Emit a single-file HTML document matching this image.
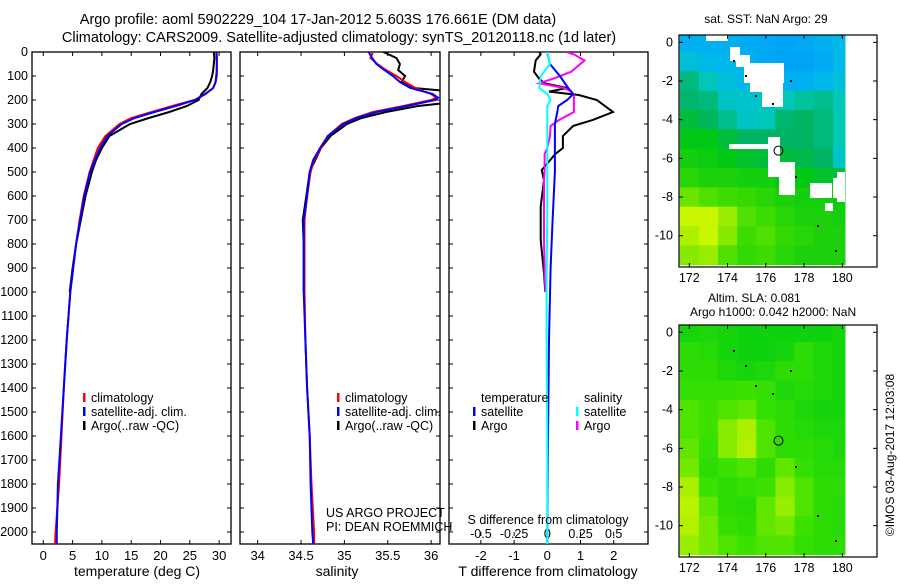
<!DOCTYPE html>
<html><head><meta charset="utf-8"><style>
body{margin:0;background:#fff;}
svg text{font-family:"Liberation Sans",sans-serif;font-size:12px;fill:#000;}
</style></head><body>
<svg id="fig" width="900" height="580" viewBox="0 0 900 580" xmlns="http://www.w3.org/2000/svg">
<defs>
<clipPath id="c1"><rect x="32" y="52" width="199" height="492"/></clipPath>
<clipPath id="c2"><rect x="240" y="52" width="200" height="492"/></clipPath>
<clipPath id="c3"><rect x="449" y="52" width="199" height="492"/></clipPath>
<clipPath id="m1"><rect x="679" y="35" width="198" height="232"/></clipPath>
<clipPath id="m2"><rect x="679" y="325" width="198" height="232"/></clipPath>
</defs>
<text x="318" y="24" text-anchor="middle" style="font-size:14.5px">Argo profile: aoml 5902229_104 17-Jan-2012 5.603S 176.661E (DM data)</text>
<text x="339" y="42" text-anchor="middle" style="font-size:14.5px">Climatology: CARS2009. Satellite-adjusted climatology: synTS_20120118.nc (1d later)</text>
<g id="g1"></g>
<g id="g2"></g>
<g id="g3"></g>
<g id="gm1"></g>
<g id="gm2"></g>
<text x="74" y="576" style="font-size:14px">temperature (deg C)</text>
<text x="337" y="576" text-anchor="middle" style="font-size:14px">salinity</text>
<text x="548" y="576" text-anchor="middle" style="font-size:14px">T difference from climatology</text>
<text x="548" y="524" text-anchor="middle" style="font-size:12.5px">S difference from climatology</text>
<text x="326" y="517" style="font-size:12.5px">US ARGO PROJECT</text>
<text x="326" y="531" style="font-size:12.5px">PI: DEAN ROEMMICH</text>
<text x="766" y="23" text-anchor="middle">sat. SST: NaN  Argo: 29</text>
<text x="708" y="302">Altim. SLA: 0.081</text>
<text x="690" y="316">Argo h1000: 0.042 h2000: NaN</text>
<text transform="translate(894,455) rotate(-90)" text-anchor="middle">©IMOS 03-Aug-2017 12:03:08</text>
</svg>
<script>
// ---- profile data ----
const depthT = [0,25,50,75,100,125,150,175,200,225,250,275,300,350,400,450,500,600,700,800,900,1000,1200,1400,1600,1800,2000,2050];
const tempClim = [29.6,29.6,29.6,29.6,29.6,29.4,29.0,27.7,25.8,22.0,18.5,15.0,13.0,10.6,9.3,8.6,7.9,6.9,6.2,5.6,5.1,4.6,4.0,3.5,3.1,2.7,2.1,2.0];
const tempSat = [29.5,29.6,29.6,29.6,29.5,29.4,29.0,27.6,25.9,22.6,19.0,15.6,13.4,10.9,9.7,8.8,8.0,7.0,6.3,5.6,5.1,4.6,4.0,3.5,3.0,2.5,2.3,2.3];
const depthArgo = [0,25,50,75,100,125,150,175,200,225,250,275,300,350,400,450,500,600,700,800,900,1000];
const tempArgo = [29.1,29.2,29.1,29.0,28.8,28.5,28.0,27.0,26.5,24.5,21.5,18.0,14.8,11.3,10.0,9.0,8.3,7.2,6.4,5.6,5.0,4.5];
const depthS = [0,25,50,75,100,125,150,175,190,200,225,250,275,300,350,400,450,500,600,700,800,1000,1200,1400,1600,1800,2000,2050];
const salClim = [35.33,35.30,35.38,35.48,35.60,35.70,35.82,36.00,36.06,36.00,35.68,35.33,35.12,34.97,34.81,34.73,34.65,34.61,34.57,34.54,34.54,34.54,34.55,34.57,34.60,34.62,34.65,34.65];
const salSat = [35.28,35.32,35.37,35.46,35.56,35.64,35.76,36.02,36.08,36.05,35.72,35.37,35.14,34.99,34.81,34.72,34.64,34.60,34.57,34.53,34.53,34.53,34.55,34.57,34.60,34.61,34.63,34.64];
const depthSA = [0,25,50,75,100,125,150,160,175,200,215,225,250,275,300,350,400,500,600,700,800,1000];
const salArgo = [35.45,35.60,35.64,35.62,35.70,35.66,35.80,36.10,36.15,36.15,36.10,35.85,35.48,35.20,35.03,34.84,34.73,34.60,34.56,34.52,34.53,34.53];
// differences
const depthD = [0,50,100,150,175,200,225,250,300,400,500,700,900,1200,1600,2000,2050];
const dTsat = [0,0.08,0.38,0.63,0.78,0.6,0.33,0.3,0.23,0.23,0.23,0.16,0.1,0.05,0.02,0,0];
const dSsat = [0,0.02,-0.05,-0.06,0.0,0.025,0.0,0.0,0.0,0.0,0.0,0.0,-0.005,-0.005,0,0,0];
const depthDA = [0,10,35,82,110,130,150,165,179,200,250,283,308,350,400,425,492,533,644,783,922,1000];
const dTargo = [-0.24,-0.2,-0.35,-0.4,-0.25,-0.1,0.6,0.05,0.95,1.49,1.98,1.37,0.78,0.47,0.47,0.24,-0.17,-0.1,-0.2,-0.2,-0.1,-0.06];
const dSargo = [0.145,0.2,0.28,0.18,0.05,-0.06,0.125,0.18,0.2,0.2,0.2,0.09,0.025,0.02,0.0,-0.02,-0.02,-0.025,-0.025,-0.025,-0.02,-0.012];
const depthTicks = [0,100,200,300,400,500,600,700,800,900,1000,1100,1200,1300,1400,1500,1600,1700,1800,1900,2000];
const tempTicks = [0,5,10,15,20,25,30];
const salTicks = [34,34.5,35,35.5,36];
const salTickLabels = ["34","34.5","35","35.5","36"];
const dTTicks = [-2,-1,0,1,2];
const dSTicks = [-0.5,-0.25,0,0.25,0.5];
const dSTickLabels = ["-0.5","-0.25","0","0.25","0.5"];
// map data (rows lat 0..-11, cols lon 172..180)
const mapLons = [172,173,174,175,176,177,178,179,180];
const mapLats = [0,-1,-2,-3,-4,-5,-6,-7,-8,-9,-10,-11];
const sstGrid = [
[0.15,0.15,0.15,0.12,0.1,0.08,0.1,0.15,0.2],
[0.25,0.2,0.18,0.15,0.1,0.08,0.08,0.12,0.2],
[0.42,0.33,0.25,0.2,0.2,0.15,0.15,0.2,0.25],
[0.44,0.42,0.3,0.28,0.3,0.35,0.38,0.4,0.35],
[0.5,0.46,0.4,0.3,0.33,0.44,0.45,0.42,0.35],
[0.55,0.55,0.5,0.45,0.45,0.45,0.45,0.42,0.35],
[0.6,0.58,0.55,0.52,0.5,0.5,0.48,0.45,0.3],
[0.65,0.62,0.62,0.6,0.6,0.55,0.55,0.52,0.5],
[0.75,0.72,0.7,0.68,0.65,0.62,0.6,0.6,0.58],
[0.85,0.85,0.8,0.72,0.7,0.65,0.62,0.62,0.6],
[0.82,0.85,0.78,0.7,0.72,0.68,0.65,0.62,0.62],
[0.78,0.8,0.72,0.68,0.7,0.65,0.62,0.62,0.62]];
const slaGrid = [
[0.15,0.2,0.15,0.1,0.1,0.1,0.1,0.1,0.15],
[0.3,0.25,0.15,0.1,0.1,0.15,0.3,0.2,0.15],
[0.3,0.3,0.2,0.15,0.2,0.3,0.3,0.2,0.15],
[0.35,0.35,0.35,0.4,0.35,0.2,0.25,0.2,0.15],
[0.45,0.4,0.45,0.5,0.35,0.3,0.2,0.15,0.15],
[0.45,0.4,0.6,0.7,0.45,0.3,0.25,0.2,0.2],
[0.5,0.35,0.6,0.75,0.45,0.3,0.3,0.25,0.2],
[0.55,0.3,0.4,0.45,0.3,0.5,0.35,0.25,0.25],
[0.7,0.4,0.3,0.35,0.4,0.6,0.45,0.3,0.3],
[0.8,0.5,0.3,0.25,0.5,0.65,0.45,0.3,0.25],
[0.75,0.55,0.35,0.3,0.5,0.55,0.4,0.3,0.25],
[0.65,0.55,0.45,0.4,0.45,0.45,0.35,0.3,0.3]];
const mapXTicks = [172,174,176,178,180];
const mapYTicks = [0,-2,-4,-6,-8,-10];
const argoLon = 176.661, argoLat = -5.603;

const NS='http://www.w3.org/2000/svg';
function mk(tag, attrs, parent){const e=document.createElementNS(NS,tag);for(const k in attrs)e.setAttribute(k,attrs[k]);parent.appendChild(e);return e;}
const yD = d => 52 + d*0.24;
const xT = t => 43.3 + t*5.86;
const xS = s => 257.7 + (s-34)*86.7;
const xDT = t => 547.3 + t*33.2;
const xDS = s => 547.3 + s*132.8;

function frame(g, x0, x1, name){
  const r=mk('rect',{x:x0,y:52,width:x1-x0,height:492,fill:'none',stroke:'#000','stroke-width':1.3},g);
  
  
  depthTicks.forEach(d=>{
    mk('line',{x1:x0,x2:x0+4,y1:yD(d),y2:yD(d),stroke:'#000'},g);
    mk('line',{x1:x1-4,x2:x1,y1:yD(d),y2:yD(d),stroke:'#000'},g);
  });
}
function line(g, xs, ds, xf, color, clip, name){
  const p=xs.map((v,i)=>xf(v).toFixed(1)+','+yD(ds[i]).toFixed(1)).join(' ');
  const e=mk('polyline',{points:p,fill:'none',stroke:color,'stroke-width':2,'clip-path':'url(#'+clip+')'},g);
  
  
}
function xticks(g, ticks, labels, xf, ylab){
  ticks.forEach((t,i)=>{
    const x=xf(t);
    mk('line',{x1:x,x2:x,y1:540,y2:544,stroke:'#000'},g);
    mk('line',{x1:x,x2:x,y1:52,y2:56,stroke:'#000'},g);
    const tx=mk('text',{x:x,y:ylab,'text-anchor':'middle',style:'font-size:13px'},g);
    tx.textContent=labels[i];
    
    
  });
}
const g1=document.getElementById('g1'),g2=document.getElementById('g2'),g3=document.getElementById('g3');
frame(g1,32,231,'temperature-panel');frame(g2,240,440,'salinity-panel');frame(g3,449,648,'difference-panel');
depthTicks.forEach(d=>{const t=mk('text',{x:28,y:yD(d)+4,'text-anchor':'end',style:'font-size:12.5px'},g1);t.textContent=d;
  
  });
xticks(g1,tempTicks,tempTicks.map(String),xT,560);
xticks(g2,salTicks,salTickLabels,xS,560);
xticks(g3,dTTicks,dTTicks.map(String),xDT,560);
dSTicks.forEach((s,i)=>{const x=xDS(s);mk('line',{x1:x,x2:x,y1:532,y2:536,stroke:'#000'},g3);
  const t=mk('text',{x:x,y:538,'text-anchor':'middle',style:'font-size:12.5px'},g3);t.textContent=dSTickLabels[i];
  
  });

line(g1,tempArgo,depthArgo,xT,'#000','c1','temp-argo-line');
line(g1,tempClim,depthT,xT,'#f00','c1','temp-climatology-line');
line(g1,tempSat,depthT,xT,'#00f','c1','temp-satellite-line');
line(g2,salArgo,depthSA,xS,'#000','c2','sal-argo-line');
line(g2,salClim,depthS,xS,'#f00','c2','sal-climatology-line');
line(g2,salSat,depthS,xS,'#00f','c2','sal-satellite-line');
line(g3,dTargo,depthDA,xDT,'#000','c3','tdiff-argo-line');
line(g3,dSargo,depthDA,xDS,'#f0f','c3','sdiff-argo-line');
line(g3,dTsat,depthD,xDT,'#00f','c3','tdiff-satellite-line');
line(g3,dSsat,depthD,xDS,'#0ff','c3','sdiff-satellite-line');

function legend(g,x,y,items,name){
  items.forEach((it,i)=>{
    if(it[1]) mk('rect',{x:x,y:y+i*14-9,width:2.5,height:9,fill:it[1]},g);
    const t=mk('text',{x:x+8,y:y+i*14,style:'font-size:12.5px'},g);t.textContent=it[0];
    
    
  });
}
legend(g1,83,402,[['climatology','#f00'],['satellite-adj. clim.','#00f'],['Argo(..raw -QC)','#000']],'temp-legend');
legend(g2,337,402,[['climatology','#f00'],['satellite-adj. clim.','#00f'],['Argo(..raw -QC)','#000']],'sal-legend');
legend(g3,473,402,[['temperature',null],['satellite','#00f'],['Argo','#000']],'tdiff-legend');
legend(g3,576,402,[['salinity',null],['satellite','#0ff'],['Argo','#f0f']],'sdiff-legend');

// maps
function lerp(a,b,t){return a.map((v,i)=>Math.round(v+(b[i]-v)*t));}
function cmap(stops,v){for(let i=1;i<stops.length;i++){if(v<=stops[i][0]){const t=(v-stops[i-1][0])/(stops[i][0]-stops[i-1][0]);return 'rgb('+lerp(stops[i-1][1],stops[i][1],t).join(',')+')';}}return 'rgb('+stops[stops.length-1][1].join(',')+')';}
const sstStops=[[0,[0,150,255]],[0.2,[0,185,235]],[0.35,[0,200,180]],[0.45,[0,180,100]],[0.55,[0,200,20]],[0.7,[60,220,0]],[0.85,[200,245,0]],[1,[230,255,0]]];
const slaStops=[[0,[0,205,20]],[0.4,[60,225,0]],[0.7,[170,240,0]],[1,[215,250,0]]];
function drawMap(g, top, grid, stops, clip, name, land){
  const xL = lon => 689.3 + (lon-172)*19.13;
  const yL = lat => top + 7.3 - lat*19.34;
  const cg=mk('g',{'clip-path':'url(#'+clip+')'},g);
  grid.forEach((row,r)=>row.forEach((v,c)=>{
    const x0=xL(mapLons[c]-0.5), x1=Math.min(xL(mapLons[c]+0.5),845);
    if(x1<=x0)return;
    const e=mk('rect',{x:x0,y:yL(mapLats[r]+0.5),width:x1-x0+0.5,height:19.9,fill:cmap(stops,v)},cg);
    
    
  }));
  land.forEach(p=>mk('rect',{x:p[0],y:top+p[1],width:p[2],height:p[3],fill:'#fff'},cg));
  [[733,25],[745,40],[755,60],[772,68],[790,45],[795,141],[817,190],[835,215],[838,248]].forEach(p=>mk('rect',{x:p[0],y:top+p[1],width:2,height:2,fill:'#000'},cg));
  const fr=mk('rect',{x:679,y:top,width:198,height:232,fill:'none',stroke:'#000','stroke-width':1.2},g);
  
  
  mapXTicks.forEach(l=>{const x=xL(l);mk('line',{x1:x,x2:x,y1:top+228,y2:top+232,stroke:'#000'},g);mk('line',{x1:x,x2:x,y1:top,y2:top+4,stroke:'#000'},g);
    const t=mk('text',{x:x,y:top+247,'text-anchor':'middle',style:'font-size:12.5px'},g);t.textContent=l;
    
    });
  mapYTicks.forEach(l=>{const y=yL(l);mk('line',{x1:679,x2:683,y1:y,y2:y,stroke:'#000'},g);mk('line',{x1:873,x2:877,y1:y,y2:y,stroke:'#000'},g);
    const t=mk('text',{x:673,y:y+4,'text-anchor':'end',style:'font-size:12.5px'},g);t.textContent=l;
    
    });
  const c=mk('circle',{cx:xL(argoLon),cy:yL(argoLat),r:4.5,fill:'none',stroke:'#000','stroke-width':1},g);
  
  
}
const sstLand=[[706,0,22,6],[730,12,10,14],[736,20,14,12],[744,28,40,20],[750,44,33,13],[762,56,21,16],[729,109,39,5],[768,102,12,40],[779,127,16,33],[810,148,22,15],[833,143,12,20],[825,168,8,8],[837,137,8,30]];
drawMap(document.getElementById('gm1'),35,sstGrid,sstStops,'m1','sst-map',sstLand);
drawMap(document.getElementById('gm2'),325,slaGrid,slaStops,'m2','sla-map',[]);
</script>
</body></html>
